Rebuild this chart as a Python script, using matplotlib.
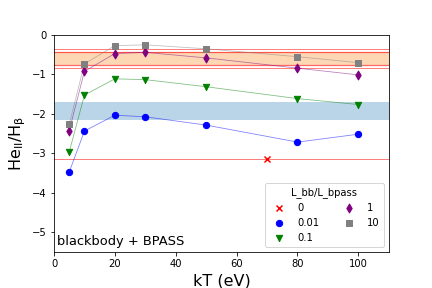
"""HeII/Hbeta ratio vs blackbody temperature, blackbody + BPASS mixes."""

import matplotlib
matplotlib.use("Agg")
import matplotlib.pyplot as plt

# temperatures (eV)
kT = [5, 10, 20, 30, 50, 80, 100]

# log HeII/Hbeta for each L_bb/L_bpass ratio
ratio_001 = [-3.48, -2.44, -2.04, -2.08, -2.29, -2.72, -2.52]
ratio_01 = [-2.97, -1.53, -1.12, -1.14, -1.32, -1.62, -1.77]
ratio_1 = [-2.43, -0.93, -0.48, -0.45, -0.59, -0.85, -1.02]
ratio_10 = [-2.27, -0.74, -0.28, -0.26, -0.36, -0.56, -0.71]

# pure BPASS point
kT_0 = [70]
ratio_0 = [-3.16]

# observed ranges
obs_orange = (-0.78, -0.44)
obs_orange_outer = (-0.85, -0.36)
obs_blue = (-2.17, -1.70)
bpass_level = -3.16

fig = plt.figure(figsize=(6, 4), dpi=72)
ax = fig.add_axes([0.125, 0.125, 0.775, 0.755])

ax.axhspan(obs_orange[0], obs_orange[1], color="#fdae6b", alpha=0.5, lw=0)
for y in obs_orange:
    ax.axhline(y, color="red", alpha=0.6, lw=1.2)
for y in obs_orange_outer:
    ax.axhline(y, color="red", alpha=0.5, lw=1)
ax.axhspan(obs_blue[0], obs_blue[1], color="#1f77b4", alpha=0.3, lw=0)
ax.axhline(bpass_level, color="red", alpha=0.5, lw=1)

series = [
    ("0.01", ratio_001, "blue", "o"),
    ("0.1", ratio_01, "green", "v"),
    ("1", ratio_1, "purple", "d"),
    ("10", ratio_10, "gray", "s"),
]

ax.scatter(kT_0, ratio_0, color="red", marker="x", s=36, label="0", zorder=3)
for label, vals, col, mk in series:
    ax.plot(kT, vals, color=col, alpha=0.5, lw=0.8)
    ax.scatter(kT, vals, color=col, marker=mk, s=40, label=label, zorder=3)

ax.set_xlim(0, 110)
ax.set_ylim(-5.5, 0)
ax.set_xticks([0, 20, 40, 60, 80, 100])
ax.set_yticks([-5, -4, -3, -2, -1, 0])
ax.set_xlabel("kT (eV)", fontsize=16)
ax.set_ylabel(r"$\mathrm{He_{II}/H_{\beta}}$", fontsize=16)

ax.text(0.01, 0.02, "blackbody + BPASS", transform=ax.transAxes,
        fontsize=13, va="bottom", ha="left")
ax.legend(title="L_bb/L_bpass", ncol=2, loc="lower right")

fig.savefig("out.png", dpi=72)
plt.close(fig)
